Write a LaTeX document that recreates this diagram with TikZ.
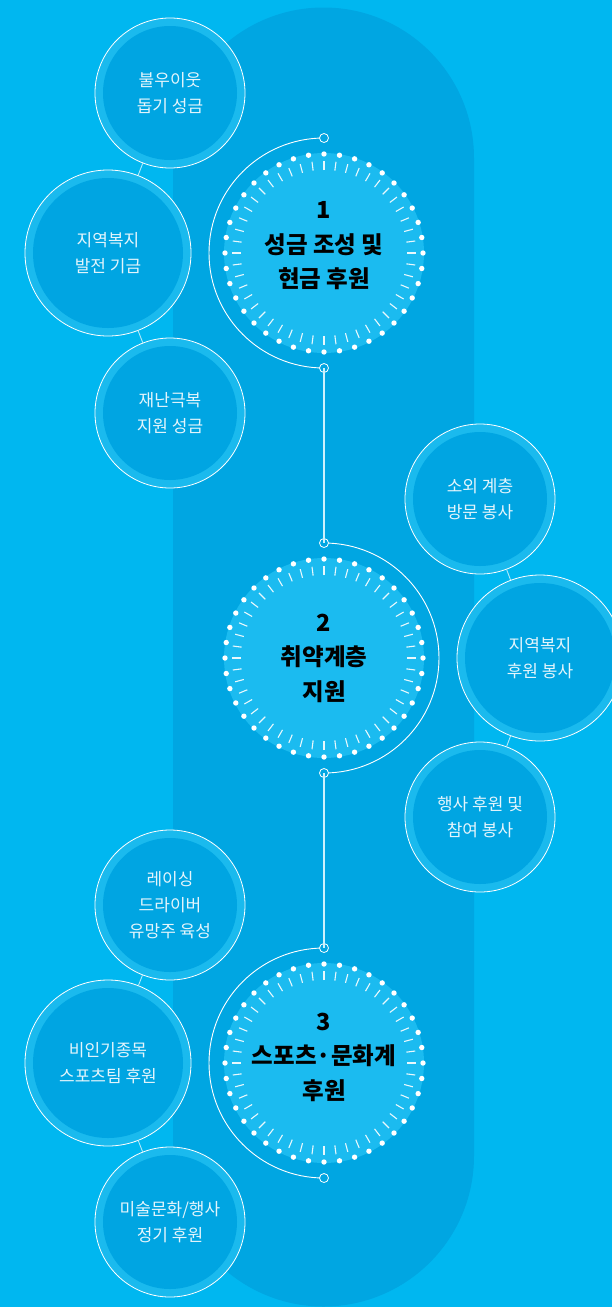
\documentclass[tikz,border=0pt]{standalone}
\usepackage{fontspec}
\newfontfamily\krfont{Noto Sans CJK KR}
\definecolor{skyback}{HTML}{00B7F0}
\definecolor{bandblue}{HTML}{00A6E2}
\definecolor{lightfill}{HTML}{1BBBF0}
\definecolor{ringblue}{HTML}{1ABAEE}
\definecolor{deepfill}{HTML}{00A5E2}
\definecolor{softwhite}{HTML}{E4F5FC}

\begin{document}
\begin{tikzpicture}[x=1pt, y=-1pt,
    subring/.style={circle, draw=white, line width=0.8pt, fill=ringblue, inner sep=0pt},
    subtext/.style={text=softwhite, align=center, font=\krfont\fontsize{17pt}{26pt}\selectfont},
    mainfill/.style={circle, fill=lightfill, minimum size=200pt, inner sep=0pt},
    maintext/.style={align=center, text=black, font=\krfont\bfseries\fontsize{23.5pt}{34.5pt}\selectfont},
    marker/.style={circle, draw=white, fill=bandblue, line width=0.8pt, minimum size=9pt, inner sep=0pt},
    link/.style={white!70!skyback, line width=0.9pt},
    stem/.style={white!80!skyback, line width=1.3pt},
    orbit/.style={white, line width=0.9pt}]

    \useasboundingbox (0,0) rectangle (612,1307);
    \fill[skyback] (0,0) rectangle (612,1307);

    % central band
    \fill[bandblue] (173,1156) -- (173,158) arc[start angle=180, end angle=0, radius=150.5pt]
        -- (474,1156) arc[start angle=0, end angle=-180, radius=150.5pt] -- cycle;

    % main circles with ticks and dots
    \foreach \n/\y in {m1/253, m2/658, m3/1063}{
        \node[mainfill] (\n) at (324,\y) {};
        \foreach \a in {0,7.5,...,352.5}
            \draw[white, opacity=0.9, line width=1.1pt] (\n.center) ++(\a:83pt) -- ++(\a:9pt);
        \foreach \a in {0,9,...,351}
            \fill[white] (\n.center) ++(\a:99pt) circle[radius=2.7pt];
    }

    \draw[orbit] (m1.center) ++(90:115pt) arc[start angle=90, end angle=270, radius=115pt];
    \draw[orbit] (m2.center) ++(90:115pt) arc[start angle=90, end angle=-90, radius=115pt];
    \draw[orbit] (m3.center) ++(90:115pt) arc[start angle=90, end angle=270, radius=115pt];

    \node[marker] (m1top) at (324,138) {};
    \node[marker] (m1bot) at (324,368) {};
    \node[marker] (m2top) at (324,543) {};
    \node[marker] (m2bot) at (324,773) {};
    \node[marker] (m3top) at (324,948) {};
    \node[marker] (m3bot) at (324,1178) {};

    \draw[stem] (m1bot.center) -- (m2top.center);
    \draw[stem] (m2bot.center) -- (m3top.center);

    \node[maintext] (t1) at (324,246) {1\\성금 조성 및\\현금 후원};
    \node[maintext] (t2) at (324,658) {2\\취약계층\\지원};
    \node[maintext] (t3) at (324,1057) {3\\스포츠·문화계\\후원};

    % side bubbles
    \foreach \n/\x/\y/\r/\t in {
        s1/170/93/75/{불우이웃\\돕기 성금},
        s2/108/253/83/{지역복지\\발전 기금},
        s3/170/413/75/{재난극복\\지원 성금},
        s4/480/499/75/{소외 계층\\방문 봉사},
        s5/540/658/83/{지역복지\\후원 봉사},
        s6/480/817/75/{행사 후원 및\\참여 봉사},
        s7/170/905/75/{레이싱\\드라이버\\유망주 육성},
        s8/108/1063/83/{비인기종목\\스포츠팀 후원},
        s9/170/1222/75/{미술문화/행사\\정기 후원}}{
        \node[subring, minimum size={2*\r pt}] (\n) at (\x,\y) {};
        \fill[deepfill] (\n.center) circle[radius={\r pt-8pt}];
        \node[subtext] at (\n.center) {\t};
    }

    \draw[link] (s1) -- (s2);
    \draw[link] (s2) -- (s3);
    \draw[link] (s4) -- (s5);
    \draw[link] (s5) -- (s6);
    \draw[link] (s7) -- (s8);
    \draw[link] (s8) -- (s9);
\end{tikzpicture}
\end{document}
